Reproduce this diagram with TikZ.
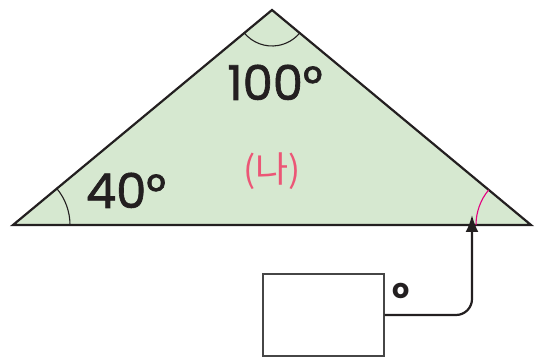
\documentclass[tikz,border=0pt]{standalone}
\usepackage{fontspec}
\setmainfont{Poppins}
\newfontfamily\heavyfont[FakeBold=1.3]{Poppins}
\newfontfamily\krfont{Noto Sans CJK KR}
\usetikzlibrary{arrows.meta,positioning,calc}
\definecolor{ink}{RGB}{35,31,32}
\definecolor{trifill}{RGB}{214,232,208}
\definecolor{labelpink}{RGB}{236,86,118}
\definecolor{arcmag}{RGB}{228,0,127}
\definecolor{boxframe}{RGB}{70,70,70}
\tikzset{
  tri/.style={draw=ink, fill=trifill, line width=2.2pt, line join=miter},
  angarc/.style={draw=ink, line width=1.1pt},
  deg/.style={font=\heavyfont\fontsize{48}{48}\selectfont, text=ink, anchor=base, inner sep=0pt},
  blank/.style={draw=boxframe, fill=white, line width=1.2pt, minimum width=121pt,
    minimum height=82pt, inner sep=0pt},
  link/.style={-{Latex[length=17pt, width=13pt]}, line width=2.2pt, draw=ink,
    rounded corners=16pt},
}
\begin{document}
\begin{tikzpicture}[x=1pt, y=1pt]
  \useasboundingbox (0,0) rectangle (535,358);
  % triangle
  \coordinate (lv) at (13,133);
  \coordinate (tv) at (272,348);
  \coordinate (rv) at (531,133);
  \draw[tri] (lv) -- (tv) -- (rv) -- cycle;
  % angle marks
  \draw[angarc] ($(lv)+(57,0)$) arc[start angle=0, end angle=39.7, radius=57];
  \draw[angarc] ($(tv)+(219.7:36)$) arc[start angle=219.7, end angle=320.3, radius=36];
  \draw[angarc, draw=arcmag] ($(rv)+(140.3:55)$) arc[start angle=140.3, end angle=180, radius=55];
  % labels
  \node[deg] (top) at (275,258) {100°};
  \node[deg] (left) at (126,150) {40°};
  \node[font=\krfont\fontsize{36}{36}\selectfont, text=labelpink] (name) at (272,187) {(나)};
  % answer box
  \node[blank] (ans) at (323.5,43) {};
  \node[font=\bfseries\fontsize{27}{27}\selectfont, text=ink, right=4pt of ans.north east,
    anchor=west, yshift=-18pt] (unit) {o};
  \coordinate (tip) at (472,143);
  \draw[link] (ans.east) -| (tip);
\end{tikzpicture}
\end{document}
